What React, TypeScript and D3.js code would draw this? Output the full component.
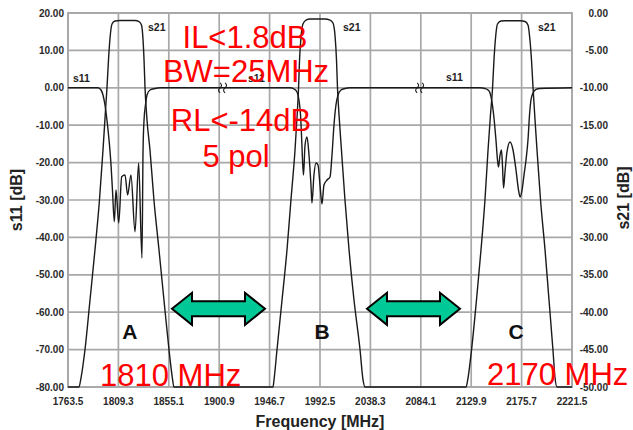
import React from "react";
import * as d3 from "d3";

// ---------- data ----------
const freqTicks = [1763.5, 1809.3, 1855.1, 1900.9, 1946.7, 1992.5, 2038.3, 2084.1, 2129.9, 2175.7, 2221.5];
const s11Ticks = [20, 10, 0, -10, -20, -30, -40, -50, -60, -70, -80];
const s21Ticks = [0, -5, -10, -15, -20, -25, -30, -35, -40, -45, -50];

// s11 (left axis), dB
const s11Freq = [
  1763.5, 1790.8, 1793.5, 1795.3, 1797.1, 1798.9, 1800.8, 1802.6, 1803.9, 1805.6, 1807.1, 1809.6, 1812.3, 1815.3,
  1817.7, 1820.7, 1824.4, 1827.7, 1830.7, 1831.7, 1832.6, 1833.9, 1835.3, 1838.0, 1842.6, 1847.1,
  1965.2, 1968.9, 1971.6, 1973.4, 1974.8, 1975.7, 1976.6, 1977.5, 1978.9, 1980.7, 1982.5, 1984.3, 1985.2, 1987.0,
  1988.9, 1990.7, 1992.5, 1994.3, 1996.1, 1998.9, 2001.6, 2003.4, 2005.2, 2007.0, 2008.9, 2011.6, 2015.2, 2019.8,
  2137.9, 2142.4, 2145.2, 2147.0, 2148.8, 2150.6, 2152.4, 2153.8, 2154.7, 2156.1, 2157.4, 2158.3, 2159.3, 2160.6,
  2162.4, 2165.2, 2167.9, 2170.6, 2172.9, 2174.3, 2176.1, 2177.9, 2179.7, 2181.5, 2182.9, 2184.2, 2186.1, 2188.8,
  2192.4, 2221.5,
];
const s11Val = [
  0.0, 0.0, -0.59, -1.93, -4.6, -8.61, -13.96, -20.64, -27.33, -35.8, -27.33, -36.15, -23.77, -23.32,
  -28.66, -23.32, -38.48, -20.11, -45.51, -16.63, -8.61, -4.6, -1.93, -0.59, -0.19, 0.0,
  0.0, -0.32, -1.12, -3.26, -7.27, -12.62, -19.3, -23.32, -15.29, -13.16, -17.97, -25.99, -30.8, -23.32,
  -20.11, -20.64, -25.99, -31.07, -25.99, -24.65, -23.85, -17.97, -9.95, -4.6, -1.93, -0.59, -0.19, 0.0,
  0.0, -0.19, -0.59, -1.39, -3.8, -8.07, -13.96, -19.3, -21.18, -17.97, -16.63, -20.64, -26.79, -22.51,
  -17.17, -14.49, -16.63, -21.98, -27.33, -29.2, -27.33, -23.32, -19.3, -13.96, -7.27, -3.26, -1.39, -0.45,
  -0.19, 0.0,
];

// s21 (right axis), dB
const s21Freq = [
  1763.5, 1773.5, 1775.3, 1778.9, 1783.5, 1788.0, 1792.1, 1795.3, 1797.6, 1798.9, 1800.3, 1801.7, 1803.5, 1806.2,
  1810.8, 1824.4, 1828.0, 1830.3, 1831.7, 1832.6, 1833.5, 1835.3, 1838.0, 1841.6, 1846.2, 1850.7, 1855.3, 1858.0, 1859.8,
  1949.8, 1950.7, 1953.4, 1958.0, 1962.5, 1966.1, 1969.8, 1972.0, 1973.0, 1973.9, 1975.2, 1977.0, 1979.8, 1983.4,
  1997.0, 2001.6, 2004.3, 2006.1, 2007.5, 2008.4, 2009.8, 2012.0, 2015.2, 2018.9, 2023.4, 2028.9, 2031.6, 2033.4,
  2125.2, 2127.0, 2130.2, 2134.7, 2138.8, 2142.4, 2145.2, 2147.4, 2149.3, 2150.6, 2152.0, 2153.8, 2157.0, 2160.6,
  2174.3, 2178.8, 2181.5, 2183.3, 2184.7, 2186.1, 2187.9, 2189.7, 2192.9, 2197.0, 2200.6, 2204.2, 2206.1, 2207.9, 2221.5,
];
const s21Val = [
  -50, -50, -48.8, -45.05, -38.37, -31.68, -25.0, -18.32, -12.97, -10.03, -6.28, -3.34, -1.47, -1.07,
  -1.0, -1.0, -1.14, -1.6, -3.61, -6.28, -10.03, -14.3, -18.32, -25.0, -31.68, -38.37, -45.05, -48.4, -50,
  -50, -49.06, -45.05, -38.37, -31.68, -25.0, -18.32, -12.97, -10.03, -6.28, -3.34, -1.47, -0.94, -0.8,
  -0.8, -0.94, -1.34, -2.94, -6.28, -10.03, -13.64, -18.32, -25.0, -31.68, -38.37, -45.05, -49.06, -50,
  -50, -48.8, -45.05, -38.37, -31.68, -25.0, -18.32, -13.64, -10.03, -6.28, -3.34, -1.47, -1.07, -1.03,
  -1.03, -1.14, -1.6, -3.61, -6.28, -10.03, -14.3, -18.32, -25.0, -31.68, -38.37, -45.05, -48.8, -50, -50,
];

// annotations
const bandLetters = ["A", "B", "C"];
const bandLetterFreq = [1819.8, 1994.3, 2170.6];
const bandLetterLevel = -67.2;
const arrowFrom = [1858.0, 2035.2];
const arrowTo = [1942.5, 2119.7];
const arrowLevel = -59.1;
const breakFreq = [1904.4, 2083.5];
const curveLabelsS21Freq = [1836.2, 2013.4, 2190.6];
const curveLabelsS11Freq = [1768.0, 1927.0, 2107.0];
const specLines = ["IL<1.8dB", "BW=25MHz", "RL<-14dB", "5 pol"];

const W = 633;
const H = 430;
const L = 68, R = 572, T = 13, B = 387;

export default function App() {
  const x = d3.scaleLinear().domain([1763.5, 2221.5]).range([L, R]);
  const yL = d3.scaleLinear().domain([-80, 20]).range([B, T]);
  const yR = d3.scaleLinear().domain([-50, 0]).range([B, T]);

  const s11Line = d3
    .line<number>()
    .x((_, i) => x(s11Freq[i]))
    .y((d) => yL(d))
    .curve(d3.curveMonotoneX);
  const s21Line = d3
    .line<number>()
    .x((_, i) => x(s21Freq[i]))
    .y((d) => yR(d))
    .curve(d3.curveMonotoneX);

  const grid = "#a8a8a8";
  const font = "'Liberation Sans', Arial, sans-serif";

  const arrowPath = (f1: number, f2: number, lvl: number) => {
    const x1 = x(f1), x2 = x(f2), yc = yL(lvl);
    const hl = 20, hh = 16, sh = 7.5;
    return `M${x1},${yc} L${x1 + hl},${yc - hh} L${x1 + hl},${yc - sh} L${x2 - hl},${yc - sh} L${x2 - hl},${yc - hh} L${x2},${yc} L${x2 - hl},${yc + hh} L${x2 - hl},${yc + sh} L${x1 + hl},${yc + sh} L${x1 + hl},${yc + hh} Z`;
  };

  const specX = [245, 246, 241, 236];
  const specY = [48, 82, 131, 167];

  return (
    <svg width={W} height={H} style={{ position: "absolute", left: 0, top: 0, background: "#fff" }} fontFamily={font}>
      <rect x={0} y={0} width={W} height={H} fill="#fff" />
      {/* grid */}
      {freqTicks.map((f) => (
        <line key={"vx" + f} x1={x(f)} x2={x(f)} y1={T} y2={B} stroke={grid} strokeWidth={1.7} />
      ))}
      {s11Ticks.map((v) => (
        <line key={"hy" + v} x1={L} x2={R} y1={yL(v)} y2={yL(v)} stroke={grid} strokeWidth={1.7} />
      ))}
      <rect x={L} y={T} width={R - L} height={B - T} fill="none" stroke={grid} strokeWidth={1.9} />

      {/* curves */}
      <path d={s21Line(s21Val) || ""} fill="none" stroke="#1a1a1a" strokeWidth={1.4} strokeLinejoin="round" />
      <path d={s11Line(s11Val) || ""} fill="none" stroke="#1a1a1a" strokeWidth={1.4} strokeLinejoin="round" />

      {/* axis breaks */}
      {breakFreq.map((f) => {
        const cx = x(f), cy = yL(0);
        return (
          <g key={"br" + f} fill="none" stroke="#1a1a1a" strokeWidth={1.1}>
            <path d={`M${cx - 3},${cy - 5} q3,2.5 0,5 q-3,2.5 0,5`} />
            <path d={`M${cx + 2},${cy - 5} q3,2.5 0,5 q-3,2.5 0,5`} />
          </g>
        );
      })}

      {/* curve labels */}
      {curveLabelsS21Freq.map((f) => (
        <text key={"l21" + f} x={x(f)} y={31} fontSize={10.5} fontWeight="bold" fill="#222">s21</text>
      ))}
      {curveLabelsS11Freq.map((f, i) => (
        <text key={"l11" + f} x={x(f)} y={i === 2 ? 81 : 82} fontSize={10.5} fontWeight="bold" fill="#222">s11</text>
      ))}

      {/* band letters */}
      {bandLetters.map((t, i) => (
        <text key={t} x={x(bandLetterFreq[i])} y={yL(bandLetterLevel)} fontSize={21} fontWeight="bold" textAnchor="middle" fill="#111">
          {t}
        </text>
      ))}

      {/* arrows */}
      {arrowFrom.map((f, i) => (
        <path key={"ar" + i} d={arrowPath(f, arrowTo[i], arrowLevel)} fill="#00c896" stroke="#000" strokeWidth={2} strokeLinejoin="miter" />
      ))}

      {/* tick labels */}
      {s11Ticks.map((v) => (
        <text key={"tl" + v} x={64} y={yL(v) + 3.5} fontSize={10} fontWeight="bold" textAnchor="end" fill="#2a2a2a">
          {v.toFixed(2)}
        </text>
      ))}
      {s21Ticks.map((v) => (
        <text key={"tr" + v} x={608} y={yR(v) + 3.5} fontSize={10} fontWeight="bold" textAnchor="end" fill="#2a2a2a">
          {v.toFixed(2)}
        </text>
      ))}
      {freqTicks.map((f) => (
        <text key={"tx" + f} x={x(f)} y={405} fontSize={10} fontWeight="bold" textAnchor="middle" fill="#2a2a2a">
          {f.toFixed(1)}
        </text>
      ))}

      {/* axis titles */}
      <text transform="translate(22,200) rotate(-90)" fontSize={16} fontWeight="bold" textAnchor="middle" fill="#222">s11 [dB]</text>
      <text transform="translate(629,198) rotate(-90)" fontSize={16} fontWeight="bold" textAnchor="middle" fill="#222">s21 [dB]</text>
      <text x={320} y={427} fontSize={16} fontWeight="bold" textAnchor="middle" fill="#222">Frequency [MHz]</text>

      {/* red annotations */}
      {specLines.map((t, i) => (
        <text key={t} x={specX[i]} y={specY[i]} fontSize={31} textAnchor="middle" fill="#ff0000">{t}</text>
      ))}
      <text x={100} y={386} fontSize={31} fill="#ff0000">1810 MHz</text>
      <text x={487} y={385} fontSize={31} fill="#ff0000">2170 MHz</text>
    </svg>
  );
}
